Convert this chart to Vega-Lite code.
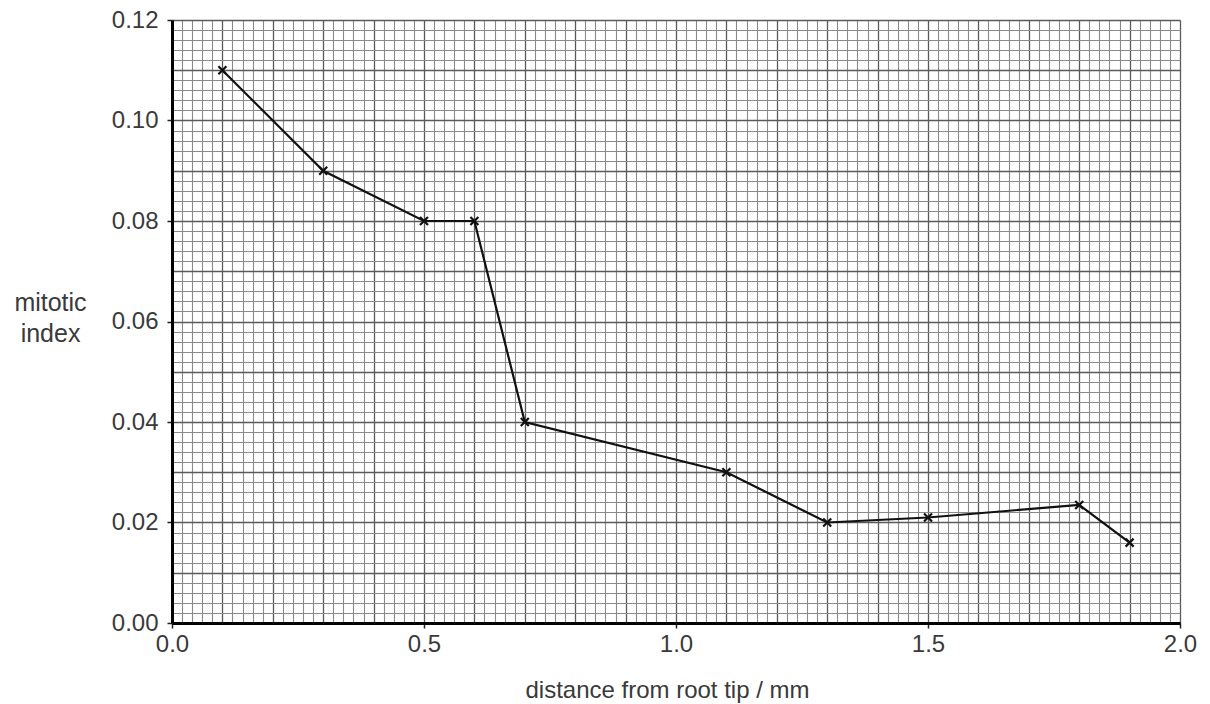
{
  "$schema": "https://vega.github.io/schema/vega-lite/v6.json",
  "width": 1008,
  "height": 603,
  "autosize": "none",
  "padding": {"left": 172, "top": 20, "right": 30, "bottom": 81},
  "background": "white",
  "config": {"view": {"stroke": null}, "font": "Liberation Sans"},
  "data": {
    "values": [
      {"distance": 0.1, "index": 0.11},
      {"distance": 0.3, "index": 0.09},
      {"distance": 0.5, "index": 0.08},
      {"distance": 0.6, "index": 0.08},
      {"distance": 0.7, "index": 0.04},
      {"distance": 1.1, "index": 0.03},
      {"distance": 1.3, "index": 0.02},
      {"distance": 1.5, "index": 0.021},
      {"distance": 1.8, "index": 0.0235},
      {"distance": 1.9, "index": 0.016}
    ]
  },
  "layer": [
    {
      "mark": {"type": "line", "color": "#111", "strokeWidth": 2.2},
      "encoding": {
        "x": {
          "field": "distance",
          "type": "quantitative",
          "scale": {"domain": [0, 2], "nice": false, "zero": false},
          "axis": {
            "grid": true,
            "tickCount": 100,
            "gridColor": {"condition": {"test": "abs(datum.value*10-round(datum.value*10))<1e-6", "value": "#5a5a5a"}, "value": "#8a8a8a"},
            "gridWidth": {"condition": {"test": "abs(datum.value*10-round(datum.value*10))<1e-6", "value": 1.3}, "value": 1.1},
            "labelExpr": "abs(datum.value*2-round(datum.value*2))<1e-6 ? format(datum.value,'.1f') : ''",
            "labelOverlap": false,
            "labelFlush": false,
            "labelFontSize": 24,
            "labelColor": "#3a3a3a",
            "labelPadding": 4,
            "tickColor": {"condition": {"test": "abs(datum.value*2-round(datum.value*2))<1e-6", "value": "#222"}, "value": "transparent"},
            "tickSize": 5,
            "tickWidth": 1.5,
            "domainColor": "#000",
            "domainWidth": 3,
            "title": "distance from root tip / mm",
            "titleFontSize": 24,
            "titleFontWeight": "normal",
            "titleColor": "#3a3a3a",
            "titleX": 495,
            "titleY": 74,
            "titleBaseline": "alphabetic"
          }
        },
        "y": {
          "field": "index",
          "type": "quantitative",
          "scale": {"domain": [0, 0.12], "nice": false, "zero": false},
          "axis": {
            "grid": true,
            "tickCount": 60,
            "gridColor": {"condition": {"test": "abs(datum.value*100-round(datum.value*100))<1e-6", "value": "#5a5a5a"}, "value": "#8a8a8a"},
            "gridWidth": {"condition": {"test": "abs(datum.value*100-round(datum.value*100))<1e-6", "value": 1.3}, "value": 1.1},
            "labelExpr": "abs(datum.value*50-round(datum.value*50))<1e-6 ? format(datum.value,'.2f') : ''",
            "labelOverlap": false,
            "labelFlush": false,
            "labelFontSize": 24,
            "labelColor": "#3a3a3a",
            "labelPadding": 9,
            "tickColor": {"condition": {"test": "abs(datum.value*50-round(datum.value*50))<1e-6", "value": "#222"}, "value": "transparent"},
            "tickSize": 5,
            "tickWidth": 1.5,
            "domainColor": "#000",
            "domainWidth": 3,
            "title": ["mitotic", "index"],
            "titleFontSize": 25,
            "titleFontWeight": "normal",
            "titleColor": "#3a3a3a",
            "titleAngle": 0,
            "titleAlign": "center",
            "titleBaseline": "alphabetic",
            "titleLineHeight": 31,
            "titleX": -122,
            "titleY": 290
          }
        }
      }
    },
    {
      "mark": {"type": "point", "shape": "M-1,-1L1,1M-1,1L1,-1", "stroke": "#111", "strokeWidth": 2.2, "size": 64, "filled": false, "opacity": 1},
      "encoding": {
        "x": {"field": "distance", "type": "quantitative"},
        "y": {"field": "index", "type": "quantitative"}
      }
    }
  ]
}
